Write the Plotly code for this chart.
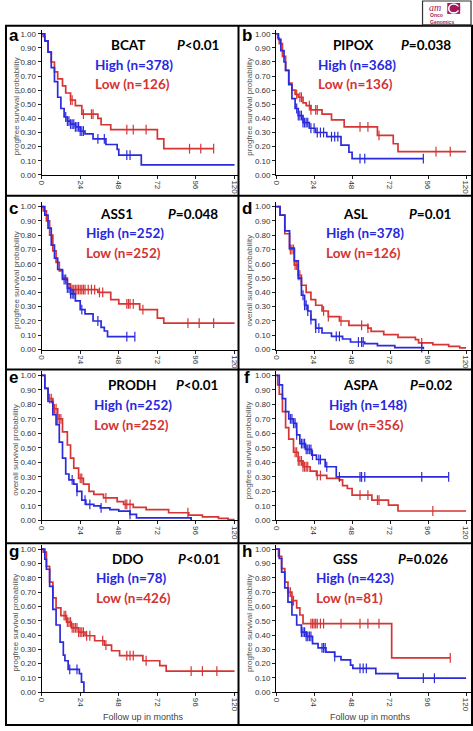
import plotly.graph_objects as go

W, H = 473, 731

# ---------------- data (months, survival probability) ----------------
a_high_t = [0, 2, 4, 6, 8, 10, 12, 14, 16, 18, 21, 24, 27, 32, 40, 47, 48, 62, 120]
a_high_s = [1, 0.95, 0.87, 0.76, 0.66, 0.55, 0.47, 0.41, 0.38, 0.36, 0.34, 0.31, 0.29, 0.255, 0.215, 0.18, 0.14, 0.07, 0.07]
a_high_c = [15, 16, 17, 18, 19, 20, 21, 22, 23, 24, 25, 26, 35, 39, 53, 55]
a_low_t = [0, 1, 2, 4, 6, 8, 10, 13, 15, 18, 21, 25, 35, 37, 43, 72, 76, 107]
a_low_s = [1, 0.98, 0.95, 0.87, 0.80, 0.73, 0.68, 0.63, 0.58, 0.53, 0.49, 0.43, 0.40, 0.355, 0.32, 0.255, 0.185, 0.185]
a_low_c = [18, 19, 26, 31, 32, 53, 57, 65, 92, 99, 107]

b_high_t = [0, 1.5, 3, 5, 6, 8, 10, 12, 14, 17, 21, 25, 32, 41, 46, 48, 93]
b_high_s = [1, 0.96, 0.88, 0.80, 0.74, 0.64, 0.54, 0.47, 0.42, 0.37, 0.33, 0.30, 0.27, 0.21, 0.16, 0.115, 0.115]
b_high_c = [13, 14, 15, 16, 17, 18, 19, 20, 22, 24, 26, 28, 30, 35, 37, 39, 53, 56, 93]
b_low_t = [0, 1, 2, 4, 6, 8, 10, 12, 14, 17, 19, 22, 29, 35, 43, 64, 74, 77, 120]
b_low_s = [1, 0.97, 0.93, 0.84, 0.74, 0.65, 0.60, 0.57, 0.55, 0.51, 0.49, 0.46, 0.43, 0.39, 0.34, 0.28, 0.22, 0.165, 0.165]
b_low_c = [13, 15, 16, 21, 22, 25, 26, 53, 58, 65, 101, 110]

c_high_t = [0, 2, 4, 6, 8, 10, 13, 16, 18, 21, 24, 27, 32, 37, 39, 41, 58]
c_high_s = [1, 0.94, 0.85, 0.73, 0.64, 0.56, 0.49, 0.43, 0.39, 0.34, 0.28, 0.25, 0.20, 0.155, 0.13, 0.09, 0.09]
c_high_c = [14, 15, 16, 17, 18, 19, 20, 25, 35, 53, 58]
c_low_t = [0, 1, 3, 5, 7, 9, 11, 13, 16, 18, 35, 43, 48, 61, 72, 76, 120]
c_low_s = [1, 0.97, 0.90, 0.80, 0.69, 0.61, 0.55, 0.50, 0.46, 0.42, 0.40, 0.35, 0.32, 0.28, 0.22, 0.185, 0.185]
c_low_c = [19, 20, 21, 22, 23, 24, 25, 26, 27, 29, 31, 33, 36, 38, 53, 54, 55, 57, 63, 91, 98, 107]

d_high_t = [0, 2.5, 5.5, 8.5, 11.5, 14, 16, 18, 20, 22, 25, 29, 35, 42, 47, 56, 64, 75, 93]
d_high_s = [1, 0.94, 0.83, 0.71, 0.62, 0.50, 0.38, 0.31, 0.27, 0.21, 0.15, 0.116, 0.093, 0.074, 0.053, 0.042, 0.028, 0.014, 0.0]
d_high_c = [17, 18, 19, 20, 22, 25, 27, 38, 40, 52, 54, 55, 92]
d_low_t = [0, 2.5, 5.5, 8.5, 11.5, 14, 16, 19, 22, 25, 29, 33, 40, 46, 58, 60, 68, 77, 88, 90, 99, 109, 116, 120]
d_low_s = [1, 0.94, 0.81, 0.70, 0.59, 0.52, 0.45, 0.40, 0.35, 0.31, 0.27, 0.23, 0.20, 0.17, 0.15, 0.128, 0.105, 0.086, 0.07, 0.047, 0.035, 0.023, 0.012, 0.012]
d_low_c = [9, 10, 11, 12, 13, 14, 15, 30, 33, 41, 54, 58, 92]

e_high_t = [0, 2, 4, 7, 9, 11, 13, 15, 17, 20, 22, 25, 27.5, 32.5, 36.5, 42.5, 48, 55, 59, 93]
e_high_s = [1, 0.91, 0.82, 0.73, 0.66, 0.54, 0.43, 0.32, 0.28, 0.25, 0.20, 0.14, 0.11, 0.10, 0.087, 0.075, 0.064, 0.041, 0.018, 0.0]
e_high_c = [19, 22, 27, 30, 37, 55]
e_low_t = [0, 2, 4, 7, 10, 13, 16, 18, 20, 23, 26, 29.5, 32.5, 38.5, 47, 51, 57, 65, 79, 91.5, 100, 110, 116, 120]
e_low_s = [1, 0.91, 0.84, 0.77, 0.70, 0.61, 0.52, 0.43, 0.36, 0.29, 0.25, 0.20, 0.18, 0.155, 0.13, 0.11, 0.09, 0.075, 0.053, 0.037, 0.025, 0.014, 0.005, 0.005]
e_low_c = [5, 6, 7, 8, 9, 10, 11, 12, 24, 25, 40, 52, 53, 55, 91]

f_high_t = [0, 2, 4, 6, 8, 11, 13, 15, 18.5, 22.5, 25.5, 31, 38, 109]
f_high_s = [1, 0.935, 0.84, 0.75, 0.70, 0.67, 0.59, 0.53, 0.49, 0.45, 0.42, 0.37, 0.30, 0.30]
f_high_c = [9, 10, 11, 12, 13, 16, 17, 18, 19, 20, 21, 22, 23, 27, 28, 32, 40, 53, 54, 56, 92, 109]
f_low_t = [0, 1, 2, 4, 6, 8, 11, 14, 17, 21.5, 25.5, 32, 40, 42, 45, 48, 60.5, 71, 77, 120]
f_low_s = [1, 0.935, 0.87, 0.75, 0.64, 0.56, 0.47, 0.41, 0.37, 0.34, 0.31, 0.29, 0.28, 0.24, 0.22, 0.175, 0.14, 0.106, 0.065, 0.065]
f_low_c = [12, 13, 14, 15, 16, 17, 18, 19, 20, 26, 28, 53, 58, 64, 65, 99]

g_high_t = [0, 2, 3, 5, 7, 9, 11.5, 13.5, 14.5, 16.5, 23.5, 24.8, 26.3]
g_high_s = [1, 0.93, 0.86, 0.74, 0.58, 0.47, 0.35, 0.26, 0.22, 0.16, 0.13, 0.07, 0.0]
g_high_c = [17.5, 22]
g_low_t = [0, 1, 3, 5, 7, 9, 12, 15.5, 18.5, 23, 27, 33, 39, 43.5, 48.5, 63, 73.5, 77.5, 120]
g_low_s = [1, 0.98, 0.88, 0.77, 0.66, 0.59, 0.535, 0.49, 0.45, 0.42, 0.395, 0.36, 0.33, 0.29, 0.256, 0.22, 0.186, 0.147, 0.147]
g_low_c = [14, 15, 16, 17, 18, 19, 20, 21, 22, 23, 24, 25, 26, 28, 30, 38, 40, 53, 55, 57, 65, 93, 100, 109]

h_high_t = [0, 2, 3.5, 5.5, 7.5, 10, 13, 16, 19, 23, 26.5, 31.5, 37, 41, 47, 48.5, 63, 77, 120]
h_high_s = [1, 0.935, 0.84, 0.73, 0.63, 0.54, 0.47, 0.42, 0.39, 0.34, 0.31, 0.28, 0.25, 0.226, 0.19, 0.167, 0.13, 0.098, 0.098]
h_high_c = [16, 17, 18, 19, 20, 21, 22, 29, 30, 31, 37, 53, 55, 57, 93, 100]
h_low_t = [0, 1.5, 3.5, 5.5, 7.5, 10, 13, 15, 17, 73, 110]
h_low_s = [1, 0.95, 0.865, 0.77, 0.70, 0.64, 0.59, 0.54, 0.48, 0.24, 0.24]
h_low_c = [8, 9, 10, 11, 22, 23, 24, 25, 26, 28, 30, 41, 53, 58, 65, 110]

genes = ["BCAT", "PIPOX", "ASS1", "ASL", "PRODH", "ASPA", "DDO", "GSS"]
p_values = ["&lt;0.01", "=0.038", "=0.048", "=0.01", "&lt;0.01", "=0.02", "&lt;0.01", "=0.026"]
high_n = [378, 368, 252, 378, 252, 148, 78, 423]
low_n = [126, 136, 252, 126, 252, 356, 426, 81]
panel_letters = ["a", "b", "c", "d", "e", "f", "g", "h"]
y_titles = ["progfree survival probability", "progfree survival probability",
            "progfree survival probability", "overall survival probability",
            "overall survival probability", "progfree survival probability",
            "progfree survival probability", "progfree survival probability"]
x_tick_vals = [0, 24, 48, 72, 96, 120]
y_tick_vals = [0.0, 0.1, 0.2, 0.3, 0.4, 0.5, 0.6, 0.7, 0.8, 0.9, 1.0]
x_title = "Follow up in months"

high_series = [(a_high_t, a_high_s, a_high_c), (b_high_t, b_high_s, b_high_c),
               (c_high_t, c_high_s, c_high_c), (d_high_t, d_high_s, d_high_c),
               (e_high_t, e_high_s, e_high_c), (f_high_t, f_high_s, f_high_c),
               (g_high_t, g_high_s, g_high_c), (h_high_t, h_high_s, h_high_c)]
low_series = [(a_low_t, a_low_s, a_low_c), (b_low_t, b_low_s, b_low_c),
              (c_low_t, c_low_s, c_low_c), (d_low_t, d_low_s, d_low_c),
              (e_low_t, e_low_s, e_low_c), (f_low_t, f_low_s, f_low_c),
              (g_low_t, g_low_s, g_low_c), (h_low_t, h_low_s, h_low_c)]

# ---------------- layout geometry (pixels) ----------------
col_x = [(37, 232, 236), (274, 466, 471)]          # x of t=0, x of t=120, right border
row_y = [(34, 176), (208, 352), (378, 524), (553, 697)]  # y of s=1, y of s=0
gene_pos = [(124, 45), (352, 45), (113, 215), (354, 215), (128, 388), (359, 388), (124, 563), (344, 563)]
p_pos = [(195, 45), (425, 45), (190, 215), (430, 215), (194, 388), (431, 388), (196, 563), (422, 563)]
hl_pos = [(89, 65), (314, 65), (80, 235), (322, 235), (88, 408), (325, 408), (90, 582), (312, 582)]

BLUE = "#2b2bdc"
RED = "#d63535"
BLUE_T = "#2727e0"
RED_T = "#d33333"
TICKC = "#333333"
YPAD = 0.03


def px(x):
    return x / W


def py(y):
    return 1 - y / H


def step_at(ts, ss, t):
    v = ss[0]
    for ti, si in zip(ts, ss):
        if ti <= t:
            v = si
        else:
            break
    return v


fig = go.Figure()
layout = {}
annotations = []
shapes = []

for i in range(8):
    r, c = divmod(i, 2)
    x0p, x120p, xr = col_x[c]
    y1p, y0p = row_y[r]
    n = i + 1
    xa = "x" if n == 1 else f"x{n}"
    ya = "y" if n == 1 else f"y{n}"
    xmax = 120 * (xr - x0p) / (x120p - x0p)
    ytop = y0p - (1 + YPAD) * (y0p - y1p)
    layout["xaxis" if n == 1 else f"xaxis{n}"] = dict(
        domain=[px(x0p), px(xr)], range=[0, xmax], anchor=ya,
        tickvals=x_tick_vals, ticktext=[str(v) for v in x_tick_vals],
        tickangle=90, ticks="outside", ticklen=3, tickcolor="#222",
        showline=True, linecolor="black", linewidth=1, showgrid=False, zeroline=False,
        tickfont=dict(family="Liberation Sans", size=8, color=TICKC), fixedrange=True)
    layout["yaxis" if n == 1 else f"yaxis{n}"] = dict(
        domain=[py(y0p), py(ytop)], range=[0, 1 + YPAD], anchor=xa,
        tickvals=y_tick_vals, tickformat=".2f",
        ticks="outside", ticklen=3, tickcolor="#222",
        showline=True, linecolor="black", linewidth=1, showgrid=False, zeroline=False,
        tickfont=dict(family="Liberation Sans", size=8, color=TICKC), fixedrange=True)

    for (ts, ss, cs), col in ((low_series[i], RED), (high_series[i], BLUE)):
        fig.add_trace(go.Scatter(x=ts, y=ss, mode="lines", line=dict(color=col, width=1.7, shape="hv"),
                                 xaxis=xa, yaxis=ya, cliponaxis=False, showlegend=False, hoverinfo="skip"))
        fig.add_trace(go.Scatter(x=cs, y=[step_at(ts, ss, t) for t in cs], mode="markers",
                                 marker=dict(symbol="line-ns", size=7, line=dict(color=col, width=1.2)),
                                 xaxis=xa, yaxis=ya, cliponaxis=False, showlegend=False, hoverinfo="skip"))

    left = 0 if c == 0 else 236
    annotations.append(dict(x=px(left + 9), y=py(y1p + 2), text=f"<b>{panel_letters[i]}</b>",
                            font=dict(family="Liberation Sans", size=17, color="black")))
    annotations.append(dict(x=px(left + 11), y=py((y1p + y0p) / 2 + 2), text=y_titles[i], textangle=-90,
                            font=dict(family="Liberation Sans", size=8, color="#555")))
    gx, gy = gene_pos[i]
    annotations.append(dict(x=px(gx), y=py(gy), text=f"<b>{genes[i]}</b>",
                            font=dict(family="Lato", size=13.5, color="black")))
    pxx, pyy = p_pos[i]
    annotations.append(dict(x=px(pxx), y=py(pyy), text=f"<b><i>P</i>{p_values[i]}</b>",
                            font=dict(family="Lato", size=13.5, color="black")))
    hx, hy = hl_pos[i]
    annotations.append(dict(x=px(hx), y=py(hy), xanchor="left", text=f"<b>High (n={high_n[i]})</b>",
                            font=dict(family="Lato", size=13.5, color=BLUE_T)))
    annotations.append(dict(x=px(hx), y=py(hy + 20), xanchor="left", text=f"<b>Low (n={low_n[i]})</b>",
                            font=dict(family="Lato", size=13.5, color=RED_T)))

# x-axis titles on bottom row
for xc in (140, 369):
    annotations.append(dict(x=px(xc), y=py(722), text=x_title,
                            font=dict(family="Liberation Sans", size=9, color="#444")))

for a in annotations:
    a.setdefault("xref", "paper")
    a.setdefault("yref", "paper")
    a.setdefault("showarrow", False)
    a.setdefault("xanchor", "center")
    a.setdefault("yanchor", "middle")

# panel frames
for yy in (26, 197, 372, 547, 730):
    shapes.append(dict(type="line", x0=px(0), x1=px(473), y0=py(yy), y1=py(yy)))
for xx in (1, 236, 472):
    shapes.append(dict(type="line", x0=px(xx), x1=px(xx), y0=py(26), y1=py(730)))
for s in shapes:
    s.update(xref="paper", yref="paper", line=dict(color="black", width=2))

# logo
MAG = "#a3195b"
shapes.append(dict(type="rect", xref="paper", yref="paper", x0=px(422), x1=px(471), y0=py(25), y1=py(1),
                   line=dict(color="#333", width=1.2), fillcolor="white"))
shapes.append(dict(type="rect", xref="paper", yref="paper", x0=px(447), x1=px(460), y0=py(14), y1=py(3),
                   line=dict(width=0), fillcolor=MAG))
shapes.append(dict(type="circle", xref="paper", yref="paper", x0=px(448.5), x1=px(458.5), y0=py(13), y1=py(4),
                   line=dict(color="white", width=1.6)))
shapes.append(dict(type="rect", xref="paper", yref="paper", x0=px(455), x1=px(460), y0=py(10.5), y1=py(6.5),
                   line=dict(width=0), fillcolor=MAG))
annotations.append(dict(x=px(428), y=py(14), text="<i>am</i>", xref="paper", yref="paper", showarrow=False,
                        xanchor="left", yanchor="bottom", borderpad=0,
                        font=dict(family="Liberation Serif", size=10, color=MAG)))
annotations.append(dict(x=px(429), y=py(19), text="<b>Onco</b><br><b>Genomics</b>", xref="paper", yref="paper",
                        showarrow=False, xanchor="left", yanchor="middle", align="left", borderpad=0,
                        font=dict(family="Liberation Sans", size=5, color=MAG)))

fig.update_layout(width=W, height=H, margin=dict(l=0, r=0, t=0, b=0), autosize=False,
                  paper_bgcolor="white", plot_bgcolor="white",
                  annotations=annotations, shapes=shapes, **layout)

fig.write_html("out.html", config={"displayModeBar": False},
               post_script="document.body.style.margin='0';document.body.style.overflow='hidden';")
